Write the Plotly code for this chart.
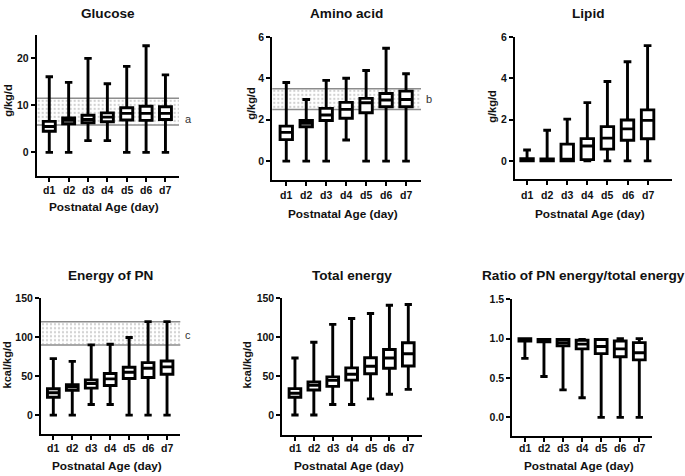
import plotly.graph_objects as go

categories = ["d1", "d2", "d3", "d4", "d5", "d6", "d7"]

glucose_q1 = [4.5, 6.1, 6.3, 6.5, 6.9, 6.8, 7.0]
glucose_med = [5.5, 6.8, 7.0, 7.5, 8.3, 8.3, 8.3]
glucose_q3 = [6.6, 7.3, 7.9, 8.4, 9.5, 9.8, 9.7]
glucose_min = [0, 0, 2.5, 2.5, 0, 0, 0]
glucose_max = [16.1, 14.9, 20.0, 14.6, 18.3, 22.7, 16.5]

amino_q1 = [1.04, 1.66, 1.96, 2.07, 2.34, 2.63, 2.63]
amino_med = [1.39, 1.83, 2.23, 2.5, 2.82, 2.95, 2.98]
amino_q3 = [1.69, 1.96, 2.55, 2.84, 3.03, 3.27, 3.38]
amino_min = [0, 0, 0, 1.02, 0, 0, 0]
amino_max = [3.8, 2.98, 3.9, 4.0, 4.38, 5.45, 4.22]

lipid_q1 = [0, 0, 0, 0.06, 0.57, 1.0, 1.07]
lipid_med = [0.03, 0.02, 0.08, 0.72, 1.1, 1.55, 1.96]
lipid_q3 = [0.11, 0.1, 0.81, 1.08, 1.66, 1.98, 2.47]
lipid_min = [0, 0, 0, 0, 0, 0, 0]
lipid_max = [0.53, 1.48, 2.02, 2.82, 3.84, 4.8, 5.58]

pn_q1 = [22.9, 31.8, 34.7, 38.1, 47.0, 48.3, 52.5]
pn_med = [28.8, 36.0, 40.7, 46.6, 55.0, 60.2, 61.9]
pn_q3 = [33.9, 39.0, 45.3, 53.4, 61.4, 67.4, 69.5]
pn_min = [0, 0, 13.6, 13.6, 0, 0, 0]
pn_max = [72.5, 69.0, 90.2, 91.0, 99.6, 120.0, 120.0]

total_q1 = [22.9, 32.2, 36.9, 44.9, 53.0, 60.2, 63.1]
total_med = [28.0, 38.1, 44.5, 52.5, 62.7, 73.3, 78.8]
total_q3 = [33.9, 42.4, 49.1, 60.6, 73.7, 84.3, 92.8]
total_min = [0, 0, 13.6, 13.6, 20.8, 26.7, 33.0]
total_max = [73.3, 93.6, 116.5, 124.1, 130.5, 141.0, 142.0]

ratio_q1 = [0.97, 0.96, 0.91, 0.87, 0.81, 0.77, 0.73]
ratio_med = [0.99, 0.98, 0.95, 0.93, 0.90, 0.87, 0.82]
ratio_q3 = [1.0, 0.99, 0.99, 0.98, 0.99, 0.97, 0.95]
ratio_min = [0.75, 0.52, 0.35, 0.25, 0, 0, 0]
ratio_max = [1.0, 0.99, 0.99, 0.99, 0.99, 1.0, 1.0]

# recommended ranges (shaded bands)
glucose_band = [5.8, 11.5]
amino_band = [2.5, 3.5]
pn_band = [90, 120]

titles = ["Glucose", "Amino acid", "Lipid", "Energy of PN", "Total energy",
          "Ratio of PN energy/total energy"]
y_titles = ["g/kg/d", "g/kg/d", "g/kg/d", "kcal/kg/d", "kcal/kg/d", ""]
band_labels = ["a", "b", None, "c", None, None]
x_title = "Postnatal Age (day)"

W, H = 685, 476
FONT = "Liberation Sans, Arial, sans-serif"

panels = [
    dict(q1=glucose_q1, med=glucose_med, q3=glucose_q3, lo=glucose_min, hi=glucose_max,
         band=glucose_band, yticks=[0, 10, 20], yfmt="d",
         yr=[-5, 25], xr=[-0.65, 6.7], px=(36.7, 179), py=(29.3, 172),
         title_xy=(108, 8), ytitle_xy=(8, 96), xtick_y=186, xtitle_y=204,
         label_xy=(188, 114)),
    dict(q1=amino_q1, med=amino_med, q3=amino_q3, lo=amino_min, hi=amino_max,
         band=amino_band, yticks=[0, 2, 4, 6], yfmt="d",
         yr=[-0.9, 6], xr=[-0.7, 6.75], px=(272.3, 421), py=(31.3, 176),
         title_xy=(346, 8), ytitle_xy=(251, 99), xtick_y=191.5, xtitle_y=211,
         label_xy=(429, 94)),
    dict(q1=lipid_q1, med=lipid_med, q3=lipid_q3, lo=lipid_min, hi=lipid_max,
         band=None, yticks=[0, 2, 4, 6], yfmt="d",
         yr=[-0.9, 6], xr=[-0.6, 7.2], px=(515, 671.7), py=(31.3, 175.7),
         title_xy=(588, 8), ytitle_xy=(492, 102), xtick_y=191.5, xtitle_y=211,
         label_xy=None),
    dict(q1=pn_q1, med=pn_med, q3=pn_q3, lo=pn_min, hi=pn_max,
         band=pn_band, yticks=[0, 50, 100, 150], yfmt="d",
         yr=[-24, 150], xr=[-0.65, 6.7], px=(41, 180.3), py=(296, 433.3),
         title_xy=(110, 273), ytitle_xy=(7, 364), xtick_y=448, xtitle_y=466,
         label_xy=(188, 333)),
    dict(q1=total_q1, med=total_med, q3=total_q3, lo=total_min, hi=total_max,
         band=None, yticks=[0, 50, 100, 150], yfmt="d",
         yr=[-25, 150], xr=[-0.67, 6.71], px=(282.3, 421.7), py=(296, 434),
         title_xy=(352, 273), ytitle_xy=(247, 364), xtick_y=448, xtitle_y=466,
         label_xy=None),
    dict(q1=ratio_q1, med=ratio_med, q3=ratio_q3, lo=ratio_min, hi=ratio_max,
         band=None, yticks=[0, 0.5, 1.0, 1.5], yfmt=".1f",
         yr=[-0.23, 1.5], px=(512.3, 651.7), py=(297, 435), xr=[-0.66, 6.65],
         title_xy=(583, 273), ytitle_xy=None, xtick_y=448, xtitle_y=466,
         label_xy=None),
]

fig = go.Figure()
annotations = []
shapes = []
positions = list(range(len(categories)))

for i, p in enumerate(panels):
    n = "" if i == 0 else str(i + 1)
    xa, ya = "x" + n, "y" + n
    # shaded reference band (bar layer sits below box layer)
    if p["band"] is not None:
        b0, b1 = p["band"]
        x0, x1 = p["xr"]
        fig.add_trace(go.Bar(
            x=[(x0 + x1) / 2], y=[b1 - b0], base=[b0], width=[x1 - x0],
            marker=dict(color="rgba(0,0,0,0)", line=dict(width=0),
                        pattern=dict(shape=".", size=4, solidity=0.25,
                                     fgcolor="#a0a0a0", fillmode="overlay")),
            hoverinfo="skip", xaxis=xa, yaxis=ya, showlegend=False))
        for yv in p["band"]:
            shapes.append(dict(
                type="line", xref=xa + " domain", x0=0, x1=1, yref=ya, y0=yv, y1=yv,
                line=dict(color="#8c8c8c", width=1.5), layer="below"))
    fig.add_trace(go.Box(
        x=positions, q1=p["q1"], median=p["med"], q3=p["q3"],
        lowerfence=p["lo"], upperfence=p["hi"],
        boxpoints=False, width=0.62, whiskerwidth=0.62,
        line=dict(color="black", width=2.9), fillcolor="white",
        xaxis=xa, yaxis=ya, showlegend=False))

    xdom = [p["px"][0] / W, p["px"][1] / W]
    ydom = [1 - p["py"][1] / H, 1 - p["py"][0] / H]
    axis_common = dict(showgrid=False, zeroline=False, showline=True,
                       linecolor="black", linewidth=2, ticks="outside",
                       ticklen=4, tickwidth=2, tickcolor="black",
                       tickfont=dict(family=FONT, size=10.5, color="#111", weight="bold"))
    fig.layout["xaxis" + n] = dict(
        domain=xdom, anchor=ya, range=p["xr"], tickmode="array",
        tickvals=positions, ticktext=categories,
        showticklabels=False, **axis_common)
    fig.layout["yaxis" + n] = dict(
        domain=ydom, anchor=xa, range=p["yr"], tickmode="array",
        tickvals=p["yticks"], tickformat=p["yfmt"], **axis_common)

    for k, c in enumerate(categories):
        annotations.append(dict(
            x=k, xref=xa, y=1 - p["xtick_y"] / H, yref="paper",
            text=f"<b>{c}</b>", showarrow=False, xanchor="center", yanchor="middle",
            font=dict(family=FONT, size=10.5, color="#111")))
    tx, ty = p["title_xy"]
    annotations.append(dict(
        x=tx / W, y=1 - ty / H, xref="paper", yref="paper", text=f"<b>{titles[i]}</b>",
        showarrow=False, xanchor="center", yanchor="middle",
        font=dict(family=FONT, size=13.6, color="#111")))
    annotations.append(dict(
        x=(p["px"][0] + p["px"][1]) / 2 / W - 0.005, y=1 - p["xtitle_y"] / H,
        xref="paper", yref="paper", text=f"<b>{x_title}</b>",
        showarrow=False, xanchor="center", yanchor="middle",
        font=dict(family=FONT, size=11.8, color="#111")))
    if p["ytitle_xy"] is not None:
        yx, yy = p["ytitle_xy"]
        annotations.append(dict(
            x=yx / W, y=1 - yy / H, xref="paper", yref="paper",
            text=f"<b>{y_titles[i]}</b>", textangle=-90, showarrow=False,
            xanchor="center", yanchor="middle",
            font=dict(family=FONT, size=11, color="#111")))
    if p["label_xy"] is not None:
        lx, ly = p["label_xy"]
        annotations.append(dict(
            x=lx / W, y=1 - ly / H, xref="paper", yref="paper",
            text=band_labels[i], showarrow=False, xanchor="center", yanchor="middle",
            font=dict(family=FONT, size=11, color="#333")))

fig.update_layout(
    width=W, height=H, margin=dict(l=0, r=0, t=0, b=0),
    paper_bgcolor="white", plot_bgcolor="white", showlegend=False,
    annotations=annotations, shapes=shapes, font=dict(family=FONT),
    barmode="overlay",
)

fig.write_html("out.html", config={"displayModeBar": False},
               post_script="document.body.style.margin='0';document.body.style.overflow='hidden';")
